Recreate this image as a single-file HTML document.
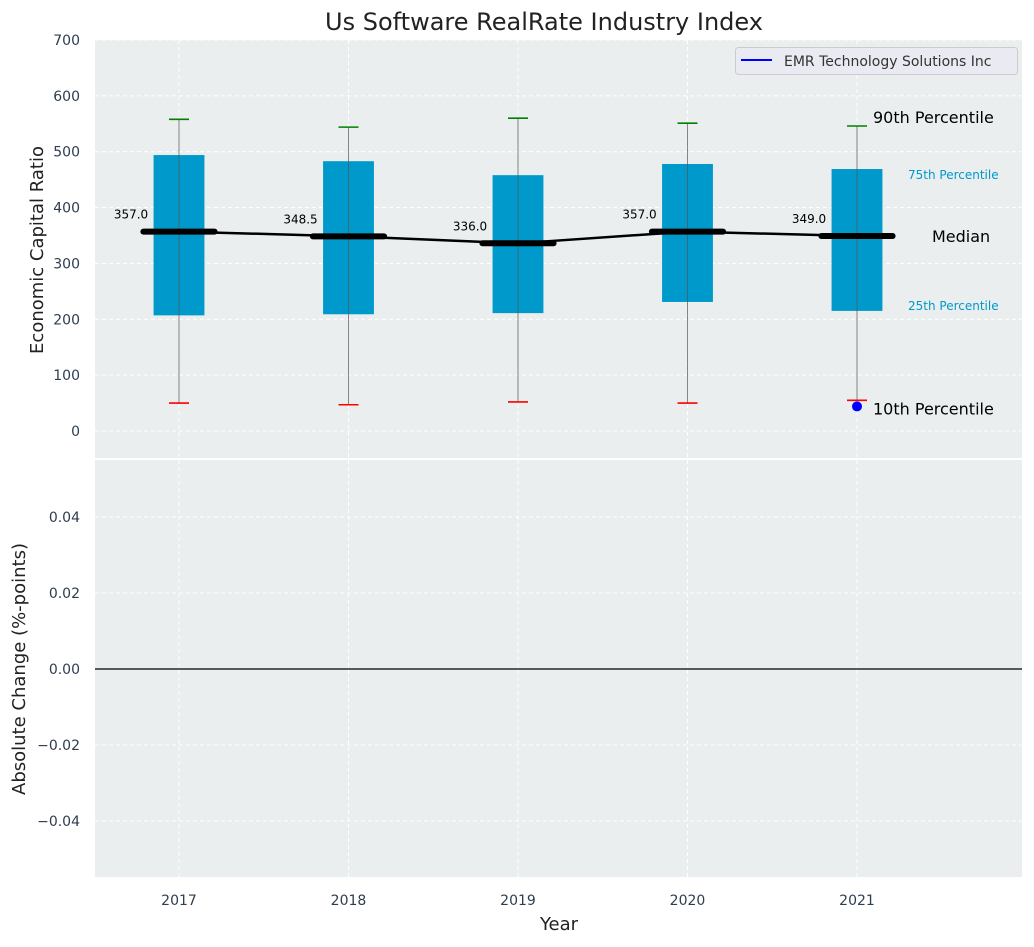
<!DOCTYPE html>
<html><head><meta charset="utf-8"><style>
body{margin:0;background:#fff;width:1034px;height:942px;overflow:hidden}
svg{font-family:"DejaVu Sans","Liberation Sans",sans-serif}
</style></head><body>
<svg id="c" width="1034" height="942" xmlns="http://www.w3.org/2000/svg"></svg>
<script>
const years=[2017,2018,2019,2020,2021];
const p10=[50,47,52,50,55];
const q1=[207,209,211,231,215];
const med=[357,348.5,336,357,349];
const q3=[494,483,458,478,469];
const p90=[558,544,560,551,546];
const companyYear=[2021];
const companyVal=[44];
const yTicksTop=[0,100,200,300,400,500,600,700];
const yTicksBot=[-0.04,-0.02,0,0.02,0.04];
const yTickLabelsBot=["\u22120.04","\u22120.02","0.00","0.02","0.04"];

const NS="http://www.w3.org/2000/svg";
const svg=document.getElementById('c');
const L=95,R=1022,T1=40,B1=458,T2=460,B2=877;
const x=v=>179+(v-2017)*169.5;
const y1=v=>431-(v)*0.5586;
const y2=v=>669-v/0.055*(669-460);
function el(t,a,txt){const e=document.createElementNS(NS,t);for(const k in a)e.setAttribute(k,a[k]);if(txt!==undefined)e.textContent=txt;svg.appendChild(e);return e;}

let e;
e=el('rect',{x:L,y:T1,width:R-L,height:B1-T1,fill:'#eaeeee'});

e=el('rect',{x:L,y:T2,width:R-L,height:B2-T2,fill:'#eaeeee'});

years.forEach(v=>{
 el('line',{x1:x(v),x2:x(v),y1:T1,y2:B1,stroke:'#fff','stroke-dasharray':'4,3','stroke-width':1});
 el('line',{x1:x(v),x2:x(v),y1:T2,y2:B2,stroke:'#fff','stroke-dasharray':'4,3','stroke-width':1});
 e=el('text',{x:x(v),y:905,'text-anchor':'middle','font-size':14,fill:'#2d3e50'},v);
 
});
yTicksTop.forEach(v=>{
 el('line',{x1:L,x2:R,y1:y1(v),y2:y1(v),stroke:'#fff','stroke-dasharray':'4,3'});
 e=el('text',{x:80,y:y1(v)+5,'text-anchor':'end','font-size':14,fill:'#2d3e50'},v);
 
});
yTicksBot.forEach((v,i)=>{
 el('line',{x1:L,x2:R,y1:y2(v),y2:y2(v),stroke:'#fff','stroke-dasharray':'4,3'});
 e=el('text',{x:80,y:y2(v)+5,'text-anchor':'end','font-size':14,fill:'#2d3e50'},yTickLabelsBot[i]);
 
});
e=el('line',{x1:L,x2:R,y1:y2(0),y2:y2(0),stroke:'#000','stroke-width':1.2});

const bw=0.3*169.5, mw=0.42*169.5, ww=10;
years.forEach((v,i)=>{
 const cx=x(v);
 e=el('rect',{x:cx-bw/2,y:y1(q3[i]),width:bw,height:y1(q1[i])-y1(q3[i]),fill:'#0099cc'});
 
 e=el('line',{x1:cx,x2:cx,y1:y1(p90[i]),y2:y1(p10[i]),stroke:'#555','stroke-width':1,opacity:0.7});
 
 e=el('line',{x1:cx-ww,x2:cx+ww,y1:y1(p90[i]),y2:y1(p90[i]),stroke:'green','stroke-width':1.6});
 
 e=el('line',{x1:cx-ww,x2:cx+ww,y1:y1(p10[i]),y2:y1(p10[i]),stroke:'red','stroke-width':1.6});
 
});
e=el('polyline',{points:years.map((v,i)=>x(v)+','+y1(med[i])).join(' '),fill:'none',stroke:'#000','stroke-width':2.5});

years.forEach((v,i)=>{
 const cx=x(v);
 e=el('line',{x1:cx-mw/2,x2:cx+mw/2,y1:y1(med[i]),y2:y1(med[i]),stroke:'#000','stroke-width':6,'stroke-linecap':'round'});
 
 e=el('text',{x:cx-48,y:y1(med[i])-13,'text-anchor':'middle','font-size':12,fill:'#000'},med[i].toFixed(1));
 
});
companyYear.forEach((v,i)=>{
 e=el('circle',{cx:x(v),cy:y1(companyVal[i]),r:5,fill:'blue'});
 
});
const last=years.length-1;
const ann=[["90th Percentile",873,y1(p90[last])-3,16,'#000'],["75th Percentile",908,y1(q3[last])+10,12,'#0099cc'],["Median",932,y1(med[last])+6,16,'#000'],["25th Percentile",908,y1(q1[last])-1,12,'#0099cc'],["10th Percentile",873,y1(p10[last])+14,16,'#000']];
ann.forEach(a=>{e=el('text',{x:a[1],y:a[2],'font-size':a[3],fill:a[4]},a[0]);
 });
e=el('rect',{x:735.5,y:47.5,width:282,height:27,rx:3,fill:'#eaeaf2',stroke:'#ccc'});

el('line',{x1:741,x2:772,y1:60,y2:60,stroke:'blue','stroke-width':2});
e=el('text',{x:784,y:66,'font-size':14,fill:'#333'},'EMR Technology Solutions Inc');

e=el('text',{x:544,y:30,'text-anchor':'middle','font-size':24,fill:'#222'},'Us Software RealRate Industry Index');

e=el('text',{x:559,y:930,'text-anchor':'middle','font-size':18,fill:'#222'},'Year');

e=el('text',{x:0,y:0,'text-anchor':'middle','font-size':18,fill:'#222',transform:'translate(43,250) rotate(-90)'},'Economic Capital Ratio');

e=el('text',{x:0,y:0,'text-anchor':'middle','font-size':18,fill:'#222',transform:'translate(25,669) rotate(-90)'},'Absolute Change (%-points)');

</script>
</body></html>
